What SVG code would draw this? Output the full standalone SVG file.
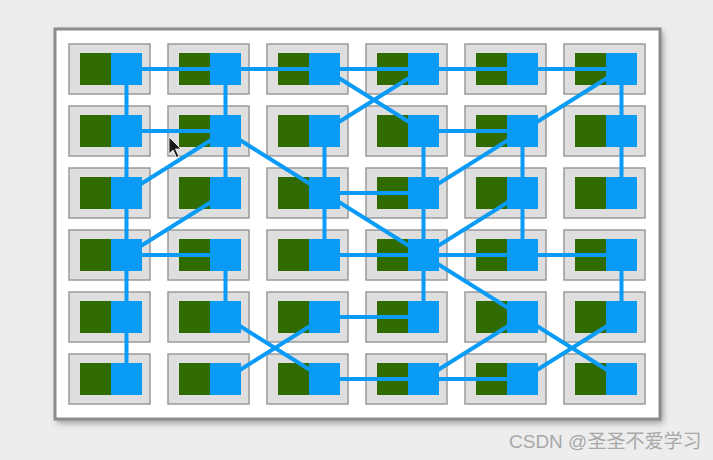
<svg xmlns="http://www.w3.org/2000/svg" width="713" height="460" viewBox="0 0 713 460">
<defs>
<filter id="sh" x="-5%" y="-5%" width="110%" height="110%"><feGaussianBlur stdDeviation="3"/></filter>
<style>
.box{fill:#dedede;stroke:#9a9a9a;stroke-width:1.5}
.g{fill:#2f6b00}
.b{fill:#0a9bf6}
.c line{stroke:#0a9bf6;stroke-width:4;stroke-linecap:butt}
.wm{font-family:"Liberation Sans","Noto Sans CJK SC",sans-serif;font-size:19px;fill:#a8a8a8}
</style>
</defs>
<rect x="0" y="0" width="713" height="460" fill="#ededed"/>
<rect x="57" y="31" width="606" height="392" fill="#9a9a9a" filter="url(#sh)"/>
<rect x="55" y="29" width="605" height="390" fill="#ffffff" stroke="#8c8c8c" stroke-width="3"/>
<g id="nodes">
<g id="n-0-0"><rect class="box" x="69" y="44" width="81" height="50"/><rect class="g" x="80" y="53" width="31" height="32"/><rect class="b" x="111" y="53" width="31" height="32"/></g>
<g id="n-0-1"><rect class="box" x="168" y="44" width="81" height="50"/><rect class="g" x="179" y="53" width="31" height="32"/><rect class="b" x="210" y="53" width="31" height="32"/></g>
<g id="n-0-2"><rect class="box" x="267" y="44" width="81" height="50"/><rect class="g" x="278" y="53" width="31" height="32"/><rect class="b" x="309" y="53" width="31" height="32"/></g>
<g id="n-0-3"><rect class="box" x="366" y="44" width="81" height="50"/><rect class="g" x="377" y="53" width="31" height="32"/><rect class="b" x="408" y="53" width="31" height="32"/></g>
<g id="n-0-4"><rect class="box" x="465" y="44" width="81" height="50"/><rect class="g" x="476" y="53" width="31" height="32"/><rect class="b" x="507" y="53" width="31" height="32"/></g>
<g id="n-0-5"><rect class="box" x="564" y="44" width="81" height="50"/><rect class="g" x="575" y="53" width="31" height="32"/><rect class="b" x="606" y="53" width="31" height="32"/></g>
<g id="n-1-0"><rect class="box" x="69" y="106" width="81" height="50"/><rect class="g" x="80" y="115" width="31" height="32"/><rect class="b" x="111" y="115" width="31" height="32"/></g>
<g id="n-1-1"><rect class="box" x="168" y="106" width="81" height="50"/><rect class="g" x="179" y="115" width="31" height="32"/><rect class="b" x="210" y="115" width="31" height="32"/></g>
<g id="n-1-2"><rect class="box" x="267" y="106" width="81" height="50"/><rect class="g" x="278" y="115" width="31" height="32"/><rect class="b" x="309" y="115" width="31" height="32"/></g>
<g id="n-1-3"><rect class="box" x="366" y="106" width="81" height="50"/><rect class="g" x="377" y="115" width="31" height="32"/><rect class="b" x="408" y="115" width="31" height="32"/></g>
<g id="n-1-4"><rect class="box" x="465" y="106" width="81" height="50"/><rect class="g" x="476" y="115" width="31" height="32"/><rect class="b" x="507" y="115" width="31" height="32"/></g>
<g id="n-1-5"><rect class="box" x="564" y="106" width="81" height="50"/><rect class="g" x="575" y="115" width="31" height="32"/><rect class="b" x="606" y="115" width="31" height="32"/></g>
<g id="n-2-0"><rect class="box" x="69" y="168" width="81" height="50"/><rect class="g" x="80" y="177" width="31" height="32"/><rect class="b" x="111" y="177" width="31" height="32"/></g>
<g id="n-2-1"><rect class="box" x="168" y="168" width="81" height="50"/><rect class="g" x="179" y="177" width="31" height="32"/><rect class="b" x="210" y="177" width="31" height="32"/></g>
<g id="n-2-2"><rect class="box" x="267" y="168" width="81" height="50"/><rect class="g" x="278" y="177" width="31" height="32"/><rect class="b" x="309" y="177" width="31" height="32"/></g>
<g id="n-2-3"><rect class="box" x="366" y="168" width="81" height="50"/><rect class="g" x="377" y="177" width="31" height="32"/><rect class="b" x="408" y="177" width="31" height="32"/></g>
<g id="n-2-4"><rect class="box" x="465" y="168" width="81" height="50"/><rect class="g" x="476" y="177" width="31" height="32"/><rect class="b" x="507" y="177" width="31" height="32"/></g>
<g id="n-2-5"><rect class="box" x="564" y="168" width="81" height="50"/><rect class="g" x="575" y="177" width="31" height="32"/><rect class="b" x="606" y="177" width="31" height="32"/></g>
<g id="n-3-0"><rect class="box" x="69" y="230" width="81" height="50"/><rect class="g" x="80" y="239" width="31" height="32"/><rect class="b" x="111" y="239" width="31" height="32"/></g>
<g id="n-3-1"><rect class="box" x="168" y="230" width="81" height="50"/><rect class="g" x="179" y="239" width="31" height="32"/><rect class="b" x="210" y="239" width="31" height="32"/></g>
<g id="n-3-2"><rect class="box" x="267" y="230" width="81" height="50"/><rect class="g" x="278" y="239" width="31" height="32"/><rect class="b" x="309" y="239" width="31" height="32"/></g>
<g id="n-3-3"><rect class="box" x="366" y="230" width="81" height="50"/><rect class="g" x="377" y="239" width="31" height="32"/><rect class="b" x="408" y="239" width="31" height="32"/></g>
<g id="n-3-4"><rect class="box" x="465" y="230" width="81" height="50"/><rect class="g" x="476" y="239" width="31" height="32"/><rect class="b" x="507" y="239" width="31" height="32"/></g>
<g id="n-3-5"><rect class="box" x="564" y="230" width="81" height="50"/><rect class="g" x="575" y="239" width="31" height="32"/><rect class="b" x="606" y="239" width="31" height="32"/></g>
<g id="n-4-0"><rect class="box" x="69" y="292" width="81" height="50"/><rect class="g" x="80" y="301" width="31" height="32"/><rect class="b" x="111" y="301" width="31" height="32"/></g>
<g id="n-4-1"><rect class="box" x="168" y="292" width="81" height="50"/><rect class="g" x="179" y="301" width="31" height="32"/><rect class="b" x="210" y="301" width="31" height="32"/></g>
<g id="n-4-2"><rect class="box" x="267" y="292" width="81" height="50"/><rect class="g" x="278" y="301" width="31" height="32"/><rect class="b" x="309" y="301" width="31" height="32"/></g>
<g id="n-4-3"><rect class="box" x="366" y="292" width="81" height="50"/><rect class="g" x="377" y="301" width="31" height="32"/><rect class="b" x="408" y="301" width="31" height="32"/></g>
<g id="n-4-4"><rect class="box" x="465" y="292" width="81" height="50"/><rect class="g" x="476" y="301" width="31" height="32"/><rect class="b" x="507" y="301" width="31" height="32"/></g>
<g id="n-4-5"><rect class="box" x="564" y="292" width="81" height="50"/><rect class="g" x="575" y="301" width="31" height="32"/><rect class="b" x="606" y="301" width="31" height="32"/></g>
<g id="n-5-0"><rect class="box" x="69" y="354" width="81" height="50"/><rect class="g" x="80" y="363" width="31" height="32"/><rect class="b" x="111" y="363" width="31" height="32"/></g>
<g id="n-5-1"><rect class="box" x="168" y="354" width="81" height="50"/><rect class="g" x="179" y="363" width="31" height="32"/><rect class="b" x="210" y="363" width="31" height="32"/></g>
<g id="n-5-2"><rect class="box" x="267" y="354" width="81" height="50"/><rect class="g" x="278" y="363" width="31" height="32"/><rect class="b" x="309" y="363" width="31" height="32"/></g>
<g id="n-5-3"><rect class="box" x="366" y="354" width="81" height="50"/><rect class="g" x="377" y="363" width="31" height="32"/><rect class="b" x="408" y="363" width="31" height="32"/></g>
<g id="n-5-4"><rect class="box" x="465" y="354" width="81" height="50"/><rect class="g" x="476" y="363" width="31" height="32"/><rect class="b" x="507" y="363" width="31" height="32"/></g>
<g id="n-5-5"><rect class="box" x="564" y="354" width="81" height="50"/><rect class="g" x="575" y="363" width="31" height="32"/><rect class="b" x="606" y="363" width="31" height="32"/></g>
</g>
<g id="connectors" class="c">
<line x1="126.5" y1="69" x2="621.5" y2="69"/>
<line x1="126.5" y1="131" x2="225.5" y2="131"/>
<line x1="423.5" y1="131" x2="522.5" y2="131"/>
<line x1="324.5" y1="193" x2="423.5" y2="193"/>
<line x1="126.5" y1="255" x2="225.5" y2="255"/>
<line x1="324.5" y1="255" x2="621.5" y2="255"/>
<line x1="324.5" y1="317" x2="423.5" y2="317"/>
<line x1="324.5" y1="379" x2="522.5" y2="379"/>
<line x1="126.5" y1="69" x2="126.5" y2="379"/>
<line x1="225.5" y1="69" x2="225.5" y2="193"/>
<line x1="225.5" y1="255" x2="225.5" y2="317"/>
<line x1="324.5" y1="131" x2="324.5" y2="255"/>
<line x1="423.5" y1="131" x2="423.5" y2="317"/>
<line x1="522.5" y1="131" x2="522.5" y2="255"/>
<line x1="621.5" y1="69" x2="621.5" y2="193"/>
<line x1="621.5" y1="255" x2="621.5" y2="317"/>
<line x1="126.5" y1="193" x2="225.5" y2="131"/>
<line x1="225.5" y1="131" x2="324.5" y2="193"/>
<line x1="126.5" y1="255" x2="225.5" y2="193"/>
<line x1="324.5" y1="69" x2="423.5" y2="131"/>
<line x1="324.5" y1="131" x2="423.5" y2="69"/>
<line x1="522.5" y1="131" x2="621.5" y2="69"/>
<line x1="423.5" y1="193" x2="522.5" y2="131"/>
<line x1="324.5" y1="193" x2="423.5" y2="255"/>
<line x1="522.5" y1="193" x2="423.5" y2="255"/>
<line x1="225.5" y1="317" x2="324.5" y2="379"/>
<line x1="225.5" y1="379" x2="324.5" y2="317"/>
<line x1="423.5" y1="255" x2="522.5" y2="317"/>
<line x1="522.5" y1="317" x2="423.5" y2="379"/>
<line x1="522.5" y1="317" x2="621.5" y2="379"/>
<line x1="522.5" y1="379" x2="621.5" y2="317"/>
</g>
<path d="M169,137 L169,154 L173,150 L176.5,157.5 L179,156.5 L175.5,149 L181,149 Z" fill="#1a1a1a" stroke="#ffffff" stroke-width="0.8"/>
<text class="wm" x="509" y="448">CSDN @圣圣不爱学习</text>
</svg>
